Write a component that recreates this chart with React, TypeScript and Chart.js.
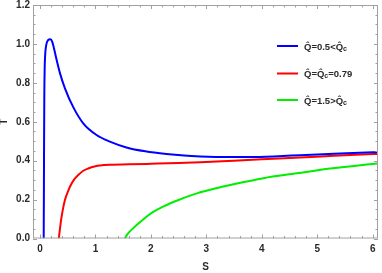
import React, { useEffect, useRef } from "react";
import { Chart, registerables } from "chart.js";

Chart.register(...registerables);

// ---- Data ----
const blueS = [0.067, 0.07, 0.073, 0.078, 0.085, 0.095, 0.11, 0.13, 0.16, 0.19, 0.22, 0.25, 0.29, 0.36, 0.45, 0.6, 0.78, 1.02, 1.26, 1.56, 1.9, 2.28, 2.6, 2.89, 3.4, 3.79, 4.3, 4.69, 5.3, 6.0, 6.1];
const blueT = [0.0, 0.2, 0.44, 0.73, 0.88, 0.95, 0.99, 1.012, 1.023, 1.024, 1.012, 0.98, 0.93, 0.85, 0.772, 0.675, 0.592, 0.532, 0.498, 0.468, 0.448, 0.434, 0.426, 0.422, 0.419, 0.419, 0.423, 0.428, 0.435, 0.443, 0.444];

const redS = [0.34, 0.36, 0.39, 0.42, 0.45, 0.5, 0.54, 0.62, 0.69, 0.78, 0.87, 1.0, 1.08, 1.26, 1.6, 2.0, 2.5, 2.89, 3.5, 4.0, 4.69, 5.3, 6.0, 6.1];
const redT = [0.0, 0.05, 0.112, 0.16, 0.198, 0.238, 0.266, 0.305, 0.326, 0.348, 0.36, 0.371, 0.375, 0.379, 0.381, 0.384, 0.388, 0.392, 0.4, 0.407, 0.416, 0.425, 0.434, 0.435];

const greenS = [1.53, 1.56, 1.6, 1.7, 1.8, 1.92, 2.05, 2.22, 2.5, 2.83, 3.2, 3.43, 4.03, 4.63, 5.23, 6.0, 6.1];
const greenT = [0.0, 0.015, 0.03, 0.058, 0.083, 0.112, 0.138, 0.164, 0.198, 0.232, 0.26, 0.275, 0.31, 0.335, 0.36, 0.383, 0.386];

const xTickValues = [0, 1, 2, 3, 4, 5, 6];
const yTickValues = [0, 0.2, 0.4, 0.6, 0.8, 1.0, 1.2];
const xMinorPerMajor = 5;
const yMinorPerMajor = 4;

const seriesColors = ["#0000ff", "#ff0000", "#00ee00"];
const legendLabels: { t: string; sub?: boolean }[][] = [
  [{ t: "Q\u0302=0.5<Q\u0302" }, { t: "c", sub: true }],
  [{ t: "Q\u0302=Q\u0302" }, { t: "c", sub: true }, { t: "=0.79" }],
  [{ t: "Q\u0302=1.5>Q\u0302" }, { t: "c", sub: true }],
];

const xTitle = "S";
const yTitle = "T";

const FONT = "'Liberation Sans', Arial, sans-serif";
const FRAME = "#a0a0a0";
const TEXT = "#2a2a2a";

const toPoints = (xs: number[], ys: number[]) => xs.map((x, i) => ({ x, y: ys[i] }));

const framePlugin = {
  id: "frameTicks",
  afterDraw(chart: any) {
    const { ctx, chartArea: a, scales } = chart;
    const xs = scales.x;
    const ys = scales.y;
    ctx.save();
    ctx.strokeStyle = FRAME;
    ctx.lineWidth = 1;
    ctx.strokeRect(a.left + 0.5, a.top + 0.5, a.right - a.left - 1, a.bottom - a.top - 1);
    ctx.beginPath();
    const xStep = (xTickValues[1] - xTickValues[0]) / xMinorPerMajor;
    const nx = (xTickValues.length - 1) * xMinorPerMajor;
    for (let k = 0; k <= nx; k++) {
      const v = xTickValues[0] + k * xStep;
      const px = Math.round(xs.getPixelForValue(v)) + 0.5;
      const len = k % xMinorPerMajor === 0 ? 4 : 2.5;
      ctx.moveTo(px, a.bottom);
      ctx.lineTo(px, a.bottom - len);
      ctx.moveTo(px, a.top);
      ctx.lineTo(px, a.top + len);
    }
    const yStep = (yTickValues[1] - yTickValues[0]) / yMinorPerMajor;
    const ny = (yTickValues.length - 1) * yMinorPerMajor;
    for (let k = 0; k <= ny; k++) {
      const v = yTickValues[0] + k * yStep;
      const py = Math.round(ys.getPixelForValue(v)) + 0.5;
      const len = k % yMinorPerMajor === 0 ? 4 : 2.5;
      ctx.moveTo(a.left, py);
      ctx.lineTo(a.left + len, py);
      ctx.moveTo(a.right, py);
      ctx.lineTo(a.right - len, py);
    }
    ctx.stroke();

    // legend
    const lx0 = a.right - 101;
    const lx1 = a.right - 80;
    const tx = a.right - 74;
    const rows = [a.top + 41, a.top + 68.5, a.top + 95];
    legendLabels.forEach((segs, i) => {
      const y = rows[i];
      ctx.strokeStyle = seriesColors[i];
      ctx.lineWidth = 2;
      ctx.beginPath();
      ctx.moveTo(lx0, y);
      ctx.lineTo(lx1, y);
      ctx.stroke();
      let x = tx;
      ctx.fillStyle = TEXT;
      ctx.textBaseline = "middle";
      ctx.textAlign = "left";
      segs.forEach((s) => {
        ctx.font = `bold ${s.sub ? 7 : 9.5}px ${FONT}`;
        ctx.fillText(s.t, x, s.sub ? y + 3 : y + 1);
        x += ctx.measureText(s.t).width;
      });
    });
    ctx.restore();
  },
};

export default function App() {
  const ref = useRef<HTMLCanvasElement | null>(null);
  useEffect(() => {
    document.body.style.margin = "0";
    const canvas = ref.current!;
    const mk = (label: string, xs: number[], ys: number[], color: string) => ({
      label,
      data: toPoints(xs, ys),
      borderColor: color,
      backgroundColor: color,
      borderWidth: 2,
      pointRadius: 0,
      cubicInterpolationMode: "monotone" as const,
      fill: false,
    });
    const chart = new Chart(canvas, {
      type: "line",
      data: {
        datasets: [
          mk("blue", blueS, blueT, seriesColors[0]),
          mk("red", redS, redT, seriesColors[1]),
          mk("green", greenS, greenT, seriesColors[2]),
        ],
      },
      options: {
        animation: false,
        responsive: false,
        maintainAspectRatio: false,
        layout: { padding: { top: 5, right: 4, left: 0, bottom: 0 } },
        plugins: { legend: { display: false }, tooltip: { enabled: false } },
        scales: {
          x: {
            type: "linear",
            min: -0.126,
            max: 6.096,
            afterBuildTicks: (s: any) => {
              s.ticks = xTickValues.map((v) => ({ value: v }));
            },
            afterFit: (s: any) => {
              s.height = 34.5;
              s.paddingLeft = 0;
              s.paddingRight = 0;
            },
            grid: { display: false, drawTicks: false },
            border: { display: false },
            ticks: {
              padding: 5,
              maxRotation: 0,
              font: { family: FONT, size: 10, weight: "bold" },
              color: TEXT,
              callback: (v: any) => String(v),
            },
            title: {
              display: true,
              text: xTitle,
              padding: 0,
              font: { family: FONT, size: 10, weight: "bold" },
              color: TEXT,
            },
          },
          y: {
            type: "linear",
            min: 0,
            max: 1.2,
            afterBuildTicks: (s: any) => {
              s.ticks = yTickValues.map((v) => ({ value: v }));
            },
            afterFit: (s: any) => {
              s.width = 33;
              s.paddingTop = 0;
              s.paddingBottom = 0;
            },
            grid: { display: false, drawTicks: false },
            border: { display: false },
            ticks: {
              padding: 3,
              font: { family: FONT, size: 10, weight: "bold" },
              color: TEXT,
              callback: (v: any) => Number(v).toFixed(1),
            },
            title: {
              display: true,
              text: yTitle,
              padding: { top: -2, bottom: 0 },
              font: { family: FONT, size: 10, weight: "bold" },
              color: TEXT,
            },
          },
        },
      },
      plugins: [framePlugin],
    });
    return () => chart.destroy();
  }, []);
  return (
    <div style={{ position: "fixed", left: 0, top: 0, width: 382, height: 273, background: "#fff" }}>
      <canvas ref={ref} width={382} height={273} style={{ width: 382, height: 273, display: "block" }} />
    </div>
  );
}
